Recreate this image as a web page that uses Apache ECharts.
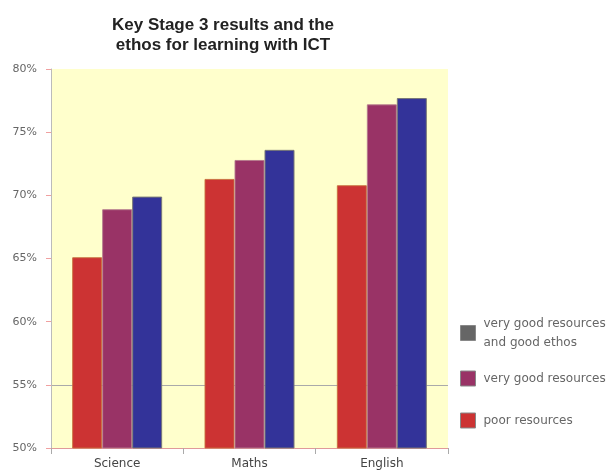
<!DOCTYPE html>
<html><head><meta charset="utf-8">
<script src="https://cdn.jsdelivr.net/npm/echarts@6/dist/echarts.min.js"></script>
<style>html,body{margin:0;padding:0;background:#fff}#c{width:606px;height:475px}</style>
</head><body><div id="c"></div>
<script>
const categories = ['Science', 'Maths', 'English'];
const poorResources = [65.1, 71.3, 70.8];
const veryGoodResources = [68.9, 72.8, 77.2];
const veryGoodResourcesEthos = [69.9, 73.6, 77.7];
const yTicks = [50, 55, 60, 65, 70, 75, 80];
const seriesNames = ['poor resources', 'very good resources', 'very good resources and good ethos'];

const chart = echarts.init(document.getElementById('c'), null, {renderer: 'canvas'});
const legendText = {color: '#666', fontSize: 12, fontFamily: 'DejaVu Sans, Verdana, sans-serif', lineHeight: 19, padding: [0, 0, 0, 3]};
function mkLegend(name, top, color, fmt) {
  return {
    data: [{name: name, itemStyle: {color: color, borderColor: '#888', borderWidth: 1}}],
    left: 460, top: top, orient: 'vertical', itemWidth: 15, itemHeight: 15, itemGap: 6, padding: 0,
    icon: 'rect', textStyle: legendText, selectedMode: false,
    formatter: fmt || (n => n)
  };
}
chart.setOption({
  animation: false,
  title: {
    text: 'Key Stage 3 results and the\nethos for learning with ICT',
    left: 218, textAlign: 'center', top: 10,
    textStyle: {fontSize: 17, fontWeight: 'bold', color: '#222', fontFamily: 'Liberation Sans, Arial, sans-serif', lineHeight: 20}
  },
  legend: [
    mkLegend(seriesNames[2], 314, '#666666', () => 'very good resources\nand good ethos'),
    mkLegend(seriesNames[1], 369, '#993366'),
    mkLegend(seriesNames[0], 411, '#cc3333')
  ],
  grid: {left: 51, right: 158, top: 69, bottom: 27, show: true, backgroundColor: '#ffffcc', borderWidth: 0},
  xAxis: {
    type: 'category', data: categories,
    axisLine: {lineStyle: {color: '#e09a9a', width: 1}},
    axisTick: {show: true, length: 6, lineStyle: {color: '#aaa'}},
    axisLabel: {color: '#444', fontSize: 12, margin: 10, fontFamily: 'DejaVu Sans, Verdana, sans-serif'}
  },
  yAxis: {
    type: 'value', min: 50, max: 80, interval: 5,
    axisLine: {show: true, lineStyle: {color: '#bbb'}},
    axisTick: {show: true, length: 5, lineStyle: {color: '#f0a0a0'}},
    axisLabel: {color: '#666', fontSize: 11, margin: 14, fontFamily: 'DejaVu Sans, Verdana, sans-serif',
      formatter: v => yTicks.includes(v) ? v + '%' : ''},
    splitLine: {show: true, lineStyle: {color: ['rgba(0,0,0,0)', '#aaa', 'rgba(0,0,0,0)', 'rgba(0,0,0,0)', 'rgba(0,0,0,0)', 'rgba(0,0,0,0)', 'rgba(0,0,0,0)']}}
  },
  series: [
    {name: seriesNames[0], type: 'bar', data: poorResources, barWidth: 30, barGap: '0%',
      itemStyle: {color: '#cc3333', borderColor: 'rgba(200,110,60,0.9)', borderWidth: 1}},
    {name: seriesNames[1], type: 'bar', data: veryGoodResources, barWidth: 30, barGap: '0%',
      itemStyle: {color: '#993366', borderColor: 'rgba(180,120,140,0.9)', borderWidth: 1}},
    {name: seriesNames[2], type: 'bar', data: veryGoodResourcesEthos, barWidth: 30, barGap: '0%',
      itemStyle: {color: '#333399', borderColor: '#777', borderWidth: 1}}
  ]
});
</script></body></html>
